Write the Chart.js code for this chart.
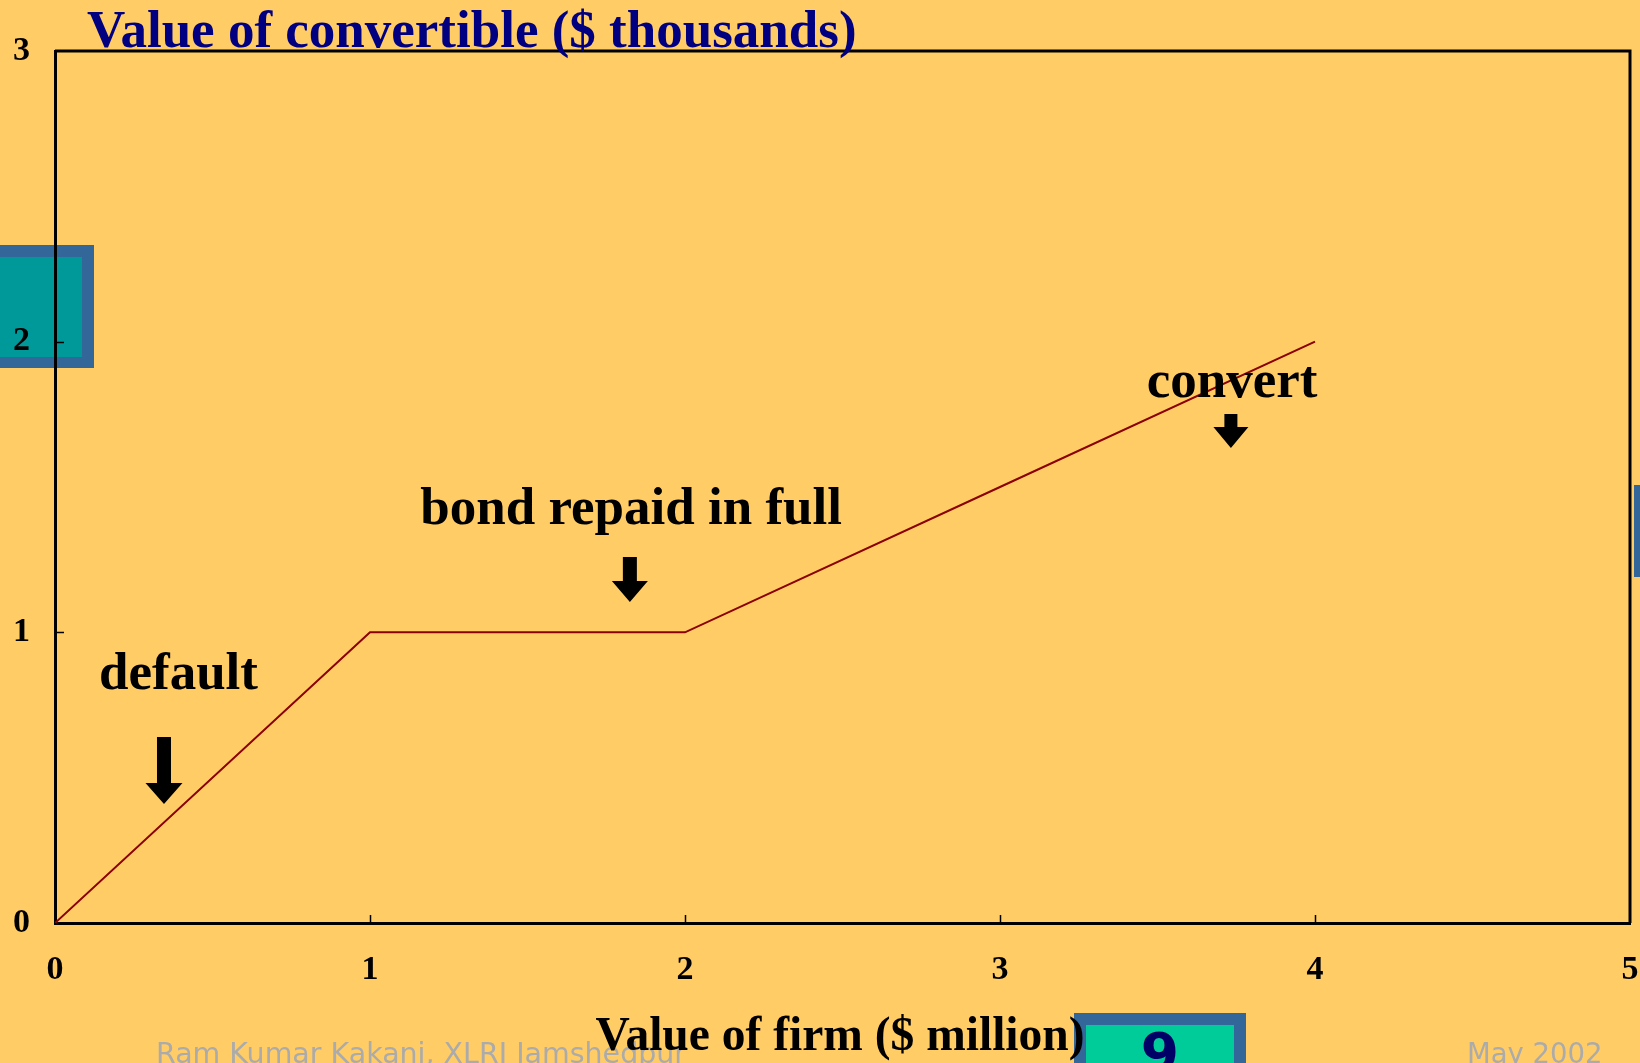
<!DOCTYPE html>
<html><head><meta charset="utf-8">
<script src="https://cdn.jsdelivr.net/npm/chart.js@4"></script>
<style>html,body{margin:0;padding:0;background:#FFCC66;overflow:hidden}canvas{display:block}</style>
</head><body>
<canvas id="c" width="1640" height="1063"></canvas>
<script>
// ---- data ----
const firmValue = [0, 1, 2, 3, 4];
const convertibleValue = [0, 1, 1, 1.5, 2];
const xTickValues = [0, 1, 2, 3, 4, 5];
const yTickValues = [0, 1, 2, 3];
const yTitle = 'Value of convertible ($ thousands)';
const xTitle = 'Value of firm ($ million)';
const annotationTexts = ['default', 'bond repaid in full', 'convert'];
const footerLeft = 'Ram Kumar Kakani, XLRI Jamshedpur';
const footerRight = 'May 2002';
const slideNumber = '9';

const SERIF = '"Liberation Serif", "Times New Roman", serif';
const SANS = '"DejaVu Sans", Verdana, sans-serif';

function arrow(ctx, cx, top, tip, shaftW, headW, headL) {
  const hs = tip - headL;
  ctx.beginPath();
  ctx.moveTo(cx - shaftW / 2, top);
  ctx.lineTo(cx + shaftW / 2, top);
  ctx.lineTo(cx + shaftW / 2, hs);
  ctx.lineTo(cx + headW / 2, hs);
  ctx.lineTo(cx, tip);
  ctx.lineTo(cx - headW / 2, hs);
  ctx.lineTo(cx - shaftW / 2, hs);
  ctx.closePath();
  ctx.fillStyle = '#000';
  ctx.fill();
}

function fitText(ctx, text, x, y, targetW) {
  const w = ctx.measureText(text).width;
  const k = targetW / w;
  ctx.save();
  ctx.translate(x, y);
  ctx.scale(k, 1);
  ctx.fillText(text, 0, 0);
  ctx.restore();
}

const deco = {
  id: 'deco',
  beforeDraw(chart) {
    const ctx = chart.ctx;
    ctx.save();
    ctx.fillStyle = '#FFCC66';
    ctx.fillRect(0, 0, chart.width, chart.height);
    // left decorative box
    ctx.fillStyle = '#336699';
    ctx.fillRect(0, 245, 94, 123);
    ctx.fillStyle = '#009999';
    ctx.fillRect(0, 257, 82, 100);
    // right decorative bar
    ctx.fillStyle = '#336699';
    ctx.fillRect(1634, 485, 6, 92);
    // slide number box
    ctx.fillStyle = '#336699';
    ctx.fillRect(1074, 1013, 172, 60);
    ctx.fillStyle = '#00CC99';
    ctx.fillRect(1086, 1025, 148, 50);
    ctx.fillStyle = '#000066';
    ctx.font = 'bold 55px ' + SANS;
    ctx.textAlign = 'center';
    ctx.textBaseline = 'alphabetic';
    ctx.fillText(slideNumber, 1160, 1072);
    // footer
    ctx.fillStyle = '#ABABAB';
    ctx.font = '27.5px ' + SANS;
    ctx.textAlign = 'left';
    fitText(ctx, footerLeft, 156, 1063, 530);
    ctx.fillText(footerRight, 1467, 1063);
    ctx.restore();
  },
  afterDraw(chart) {
    const ctx = chart.ctx;
    const xs = chart.scales.x, ys = chart.scales.y;
    const a = chart.chartArea;
    ctx.save();
    // top & right frame
    ctx.strokeStyle = '#000';
    ctx.lineWidth = 3;
    ctx.beginPath();
    ctx.moveTo(a.left, a.top);
    ctx.lineTo(a.right, a.top);
    ctx.lineTo(a.right, a.bottom);
    ctx.stroke();
    // inward tick marks
    ctx.lineWidth = 1.5;
    ctx.beginPath();
    xTickValues.forEach(v => {
      if (v <= xs.min || v >= xs.max) return;
      const px = Math.round(xs.getPixelForValue(v)) + 0.5;
      ctx.moveTo(px, a.bottom);
      ctx.lineTo(px, a.bottom - 8);
    });
    yTickValues.forEach(v => {
      if (v <= ys.min || v >= ys.max) return;
      const py = Math.round(ys.getPixelForValue(v)) + 0.5;
      ctx.moveTo(a.left, py);
      ctx.lineTo(a.left + 9, py);
    });
    ctx.stroke();

    // annotations (placed in data units)
    const notes = [
      {text: annotationTexts[0], tx: 0.392, ty: 0.805, ax: 0.346, top: 0.640, tip: 0.409, sw: 14, hw: 37, hl: 21},
      {text: annotationTexts[1], tx: 1.829, ty: 1.373, ax: 1.825, top: 1.259, tip: 1.104, sw: 14, hw: 36, hl: 21},
      {text: annotationTexts[2], tx: 3.737, ty: 1.810, ax: 3.733, top: 1.751, tip: 1.634, sw: 13, hw: 35, hl: 21}
    ];
    ctx.font = 'bold 53px ' + SERIF;
    ctx.fillStyle = '#000';
    ctx.textAlign = 'center';
    ctx.textBaseline = 'alphabetic';
    notes.forEach(n => {
      ctx.fillText(n.text, xs.getPixelForValue(n.tx), ys.getPixelForValue(n.ty));
      arrow(ctx, xs.getPixelForValue(n.ax), ys.getPixelForValue(n.top), ys.getPixelForValue(n.tip), n.sw, n.hw, n.hl);
    });

    // y title
    ctx.fillStyle = '#000080';
    ctx.font = 'bold 53px ' + SERIF;
    ctx.textAlign = 'left';
    ctx.fillText(yTitle, 87, 47);
    // x title
    ctx.fillStyle = '#000';
    ctx.font = 'bold 47.5px ' + SERIF;
    ctx.textAlign = 'center';
    ctx.fillText(xTitle, 840, 1050);
    ctx.restore();
  }
};

const tickFont = {family: SERIF, weight: 'bold', size: 34};

new Chart(document.getElementById('c').getContext('2d'), {
  type: 'line',
  data: {
    datasets: [{
      data: firmValue.map((x, i) => ({x: x, y: convertibleValue[i]})),
      borderColor: '#8B0000',
      borderWidth: 2,
      pointRadius: 0,
      fill: false,
      tension: 0
    }]
  },
  options: {
    responsive: false,
    animation: false,
    devicePixelRatio: 1,
    layout: {padding: {top: 51, right: 10, left: 0, bottom: 0}},
    plugins: {legend: {display: false}, tooltip: {enabled: false}, title: {display: false}},
    scales: {
      x: {
        type: 'linear', min: 0, max: 5,
        afterBuildTicks: s => { s.ticks = xTickValues.map(v => ({value: v})); },
        grid: {display: false, drawTicks: false},
        border: {display: true, color: '#000', width: 3},
        ticks: {font: tickFont, color: '#000', padding: 27, maxRotation: 0, autoSkip: false},
        afterFit: s => { s.height = 140; s.paddingLeft = 0; s.paddingRight = 0; }
      },
      y: {
        type: 'linear', min: 0, max: 3,
        afterBuildTicks: s => { s.ticks = yTickValues.map(v => ({value: v})); },
        grid: {display: false, drawTicks: false},
        border: {display: true, color: '#000', width: 3},
        ticks: {font: tickFont, color: '#000', padding: 25, autoSkip: false},
        afterFit: s => { s.width = 55; s.paddingTop = 0; s.paddingBottom = 0; }
      }
    }
  },
  plugins: [deco]
});
</script>
</body></html>
